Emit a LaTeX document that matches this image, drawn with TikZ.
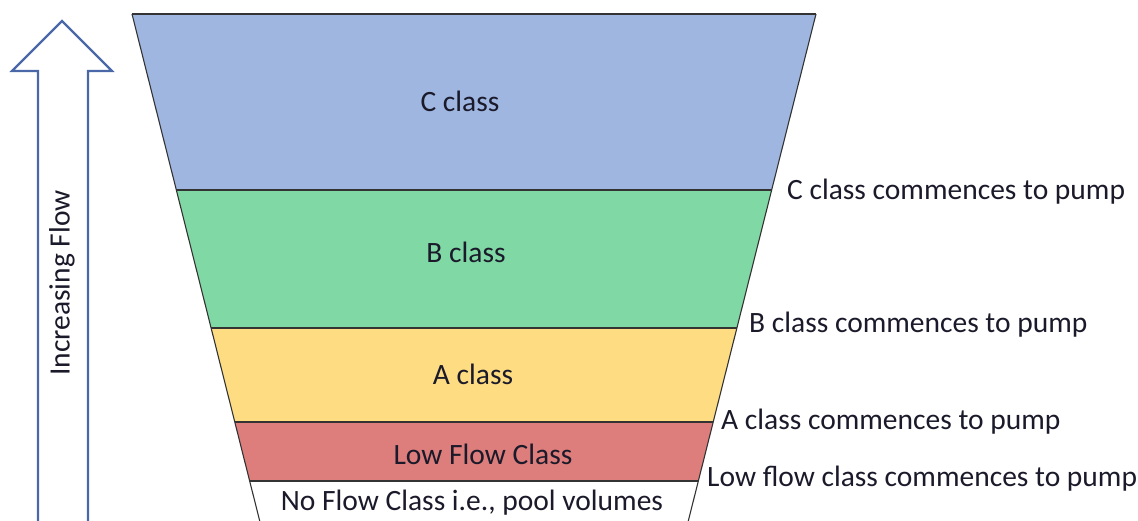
\documentclass[tikz,border=0pt]{standalone}
\usepackage{fontspec}
\setmainfont{Carlito}
\definecolor{cC}{HTML}{9FB6E0}
\definecolor{cB}{HTML}{80D8A5}
\definecolor{cA}{HTML}{FEDC82}
\definecolor{cL}{HTML}{DE7E7C}
\definecolor{arrowblue}{HTML}{4A68A8}
\definecolor{txt}{HTML}{1A1A2A}
\begin{document}
\begin{tikzpicture}[x=1pt,y=-1pt,
  band/.style={draw=black!80,line width=1.1pt},
  lbl/.style={font=\fontsize{29.5}{34}\selectfont,text=txt,inner sep=0pt},
  side/.style={lbl,anchor=west}]
\useasboundingbox (0,0) rectangle (1138,520);
\clip (0,0) rectangle (1138,520);
% funnel corners
\coordinate (L0) at (132,14);   \coordinate (R0) at (816,14);
\coordinate (L1) at (176.4,190); \coordinate (R1) at (771.6,190);
\coordinate (L2) at (211.1,328); \coordinate (R2) at (736.9,328);
\coordinate (L3) at (234.8,422); \coordinate (R3) at (713.2,422);
\coordinate (L4) at (249.7,481); \coordinate (R4) at (698.3,481);
\coordinate (L5) at (261,526);  \coordinate (R5) at (687,526);
\fill[cC] (L0)--(R0)--(R1)--(L1)--cycle;
\fill[cB] (L1)--(R1)--(R2)--(L2)--cycle;
\fill[cA] (L2)--(R2)--(R3)--(L3)--cycle;
\fill[cL] (L3)--(R3)--(R4)--(L4)--cycle;
\draw[band] (L0)--(R0);
\draw[band] (L1)--(R1);
\draw[band] (L2)--(R2);
\draw[band] (L3)--(R3);
\draw[band] (L4)--(R4);
\draw[band] (L0)--(L5);
\draw[band] (R0)--(R5);
% arrow
\draw[arrowblue,line width=2.2pt,line join=miter,fill=white]
  (62,21)--(112,71)--(88,71)--(88,530)--(38,530)--(38,71)--(12,71)--cycle;
\node[lbl,rotate=90] (flow) at (62,283) {Increasing Flow};
% band labels
\node[lbl] (c) at (460,101) {C class};
\node[lbl] (b) at (466,252) {B class};
\node[lbl] (a) at (473,374) {A class};
\node[lbl] (l) at (483,454) {Low Flow Class};
\node[lbl] (n) at (472,503) {No Flow Class i.e., pool volumes};
% side labels
\node[side] (sc) at (787,192) {C class commences to pump};
\node[side] (sb) at (749,325) {B class commences to pump};
\node[side] (sa) at (721,422) {A class commences to pump};
\node[side] (sl) at (707,479) {Low flow class commences to pump};
\end{tikzpicture}
\end{document}
